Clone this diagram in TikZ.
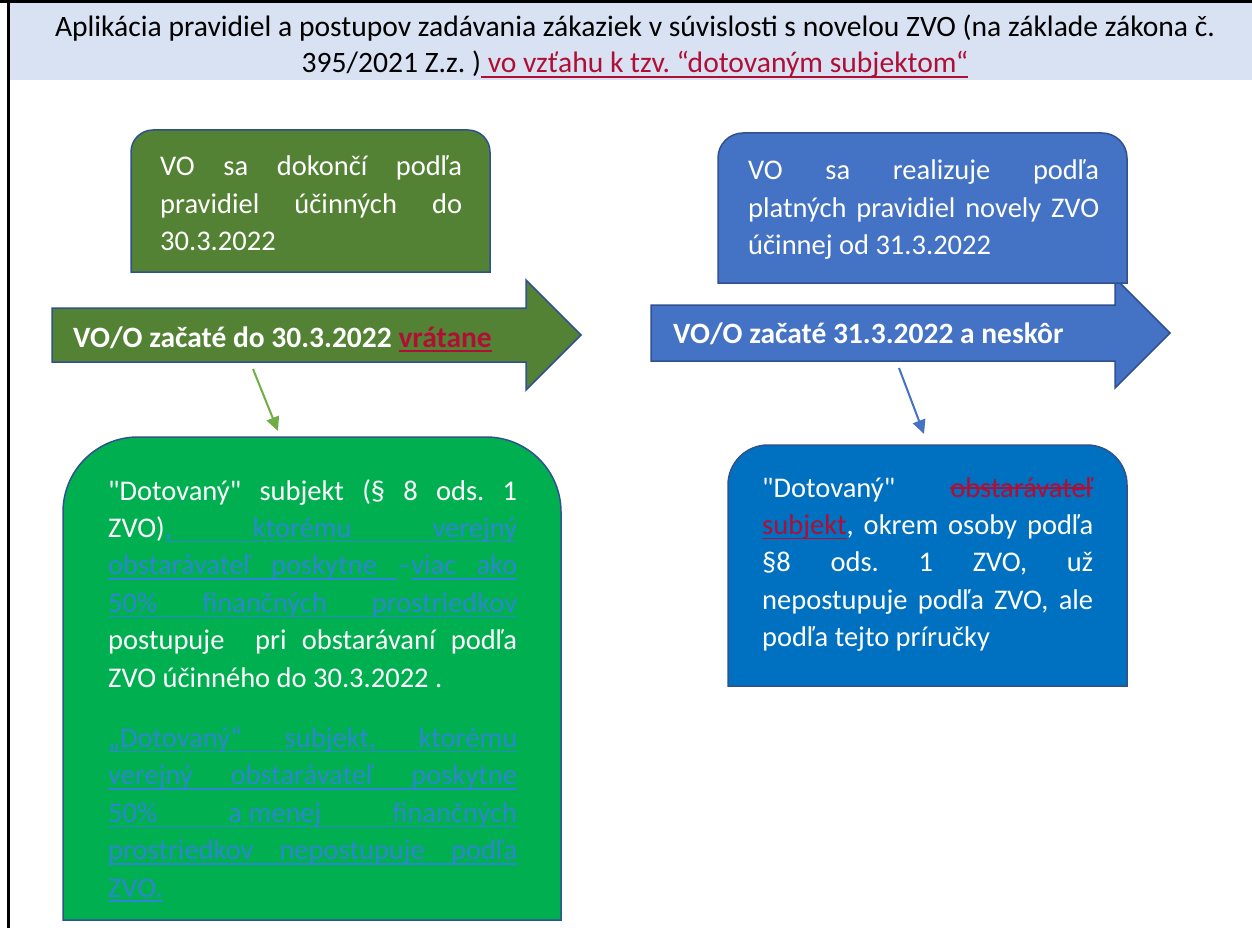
\documentclass[tikz,border=0pt]{standalone}
\usepackage{fontspec}
\setmainfont{Carlito}[Ligatures=TeXOff]
\usetikzlibrary{arrows.meta}

\definecolor{bandblue}{RGB}{217,226,243}
\definecolor{olivegreen}{RGB}{84,130,53}
\definecolor{brightgreen}{RGB}{0,176,80}
\definecolor{midblue}{RGB}{68,114,196}
\definecolor{deepblue}{RGB}{0,112,192}
\definecolor{edgeblue}{RGB}{47,82,143}
\definecolor{leafgreen}{RGB}{112,173,71}
\definecolor{darkred}{RGB}{176,14,52}
\definecolor{linkblue}{RGB}{46,134,210}

\setlength{\parindent}{0pt}
\frenchspacing
\tolerance=10000
\hbadness=10000
\hyphenpenalty=10000
\exhyphenpenalty=10000

% underline and strike-out made by hand
\newcommand{\ul}[1]{\leavevmode\begingroup\setbox0\hbox{#1}\rlap{\rule[-5pt]{\wd0}{1.6pt}}\box0\endgroup}
\newcommand{\strike}[1]{\leavevmode\begingroup\setbox0\hbox{#1}\rlap{\rule[8pt]{\wd0}{1.6pt}}\box0\endgroup}
\newcommand{\ulsp}{\leavevmode\leaders\hrule height -3.4pt depth 5pt\hskip\fontdimen2\font plus\fontdimen3\font}
\def\ulwordsi#1 #2\stopwords{\ul{#1}\if\relax\detokenize{#2}\relax\else\ulsp\ulwordsi#2\stopwords\fi}
\newcommand{\ulwords}[1]{\ulwordsi#1 \stopwords}
\newcommand{\added}[1]{\leavevmode{\color{linkblue}\ulwords{#1}}}

\begin{document}
\begin{tikzpicture}[x=1pt, y=-1pt,
    boxline/.style={draw=edgeblue, line width=1.5pt},
    boxtext/.style={anchor=base west, inner sep=0pt, text=white, align=justify,
        font=\fontsize{28.5}{37.4}\selectfont},
    arrowtext/.style={anchor=base west, inner sep=0pt, text=white,
        font=\fontsize{29.5}{37.4}\selectfont\bfseries},
    pointer/.style={line width=2pt, -{Triangle[length=14pt, width=13pt]}}]

    \useasboundingbox (0,0) rectangle (1252,928);

    % title band
    \fill[bandblue] (8,3) rectangle (1252,80);
    \draw[line width=3pt] (0,1.5) -- (1252,1.5);
    \draw[line width=2.5pt] (8.5,0) -- (8.5,928);
    \node[anchor=base, inner sep=0pt, text width=1230pt, align=flush center,
        font=\fontsize{29.6}{36.5}\selectfont] (title) at (635,36.5)
        {Aplikácia pravidiel a postupov zadávania zákaziek v súvislosti s novelou ZVO (na základe zákona č.\\
        395/2021 Z.z. ){\color{darkred}\ulsp\ulwords{vo vzťahu k tzv. “dotovaným subjektom“}}};

    % left side: until 30.3.2022
    \draw[boxline, fill=olivegreen] (52,308) -- (526,308) -- (526,280) -- (581,335)
        -- (526,390) -- (526,362) -- (52,362) -- cycle;
    \node[arrowtext] (oldlabel) at (73,347)
        {VO/O začaté do 30.3.2022 {\color{darkred}\ul{vrátane}}};

    \draw[boxline, fill=olivegreen] (131,272) -- (131,152)
        .. controls (131,139.85) and (140.85,130) .. (153,130) -- (468,130)
        .. controls (480.15,130) and (490,139.85) .. (490,152) -- (490,272) -- cycle;
    \node[boxtext, text width=302pt] (oldrule) at (160,176)
        {VO sa dokončí podľa\linebreak pravidiel účinných do\linebreak 30.3.2022};

    \draw[boxline, fill=brightgreen] (63,920) -- (63,512)
        .. controls (63,470.6) and (96.6,437) .. (138,437) -- (486,437)
        .. controls (527.4,437) and (561,470.6) .. (561,512) -- (561,920) -- cycle;
    \node[boxtext, text width=409pt] (oldsubject) at (108,500)
        {"Dotovaný" subjekt (§ 8 ods. 1\linebreak
        ZVO)\added{, ktorému verejný}\linebreak
        \added{obstarávateľ poskytne}{\color{linkblue}\ulsp–}\added{viac ako}\linebreak
        \added{50\% finančných prostriedkov}\linebreak
        postupuje\ \ pri obstarávaní podľa\linebreak
        ZVO účinného do 30.3.2022 .\par
        \vspace{23pt}
        \added{„Dotovaný“ subjekt, ktorému}\linebreak
        \added{verejný obstarávateľ poskytne}\linebreak
        \added{50\% {a menej} finančných}\linebreak
        \added{prostriedkov nepostupuje podľa}\linebreak
        \added{ZVO.}};

    \coordinate (oldfrom) at (253,369);
    \coordinate (oldto) at (278,431);
    \draw[pointer, leafgreen] (oldfrom) -- (oldto);

    % right side: from 31.3.2022
    \draw[boxline, fill=midblue] (651,305) -- (1115,305) -- (1115,278) -- (1170,333)
        -- (1115,388) -- (1115,361) -- (651,361) -- cycle;
    \node[arrowtext] (newlabel) at (673,343) {VO/O začaté 31.3.2022 a neskôr};

    \draw[boxline, fill=midblue] (718,283) -- (718,158)
        .. controls (718,144.2) and (729.2,133) .. (743,133) -- (1102,133)
        .. controls (1115.8,133) and (1127,144.2) .. (1127,158) -- (1127,283) -- cycle;
    \node[boxtext, text width=351pt] (newrule) at (748,180)
        {VO sa realizuje podľa\linebreak platných pravidiel novely ZVO\linebreak účinnej od 31.3.2022};

    \draw[boxline, fill=deepblue] (728,686) -- (728,485)
        .. controls (728,462.9) and (745.9,445) .. (768,445) -- (1087,445)
        .. controls (1109.1,445) and (1127,462.9) .. (1127,485) -- (1127,686) -- cycle;
    \node[boxtext, text width=331pt] (newsubject) at (762,497)
        {"Dotovaný" {\color{darkred}\strike{obstarávateľ}}\linebreak
        {\color{darkred}\ul{subjekt}}, okrem osoby podľa\linebreak
        §8 ods. 1 ZVO, už\linebreak
        nepostupuje podľa ZVO, ale\linebreak
        podľa tejto príručky};

    \coordinate (newfrom) at (899,368);
    \coordinate (newto) at (924,434);
    \draw[pointer, midblue] (newfrom) -- (newto);
\end{tikzpicture}
\end{document}
